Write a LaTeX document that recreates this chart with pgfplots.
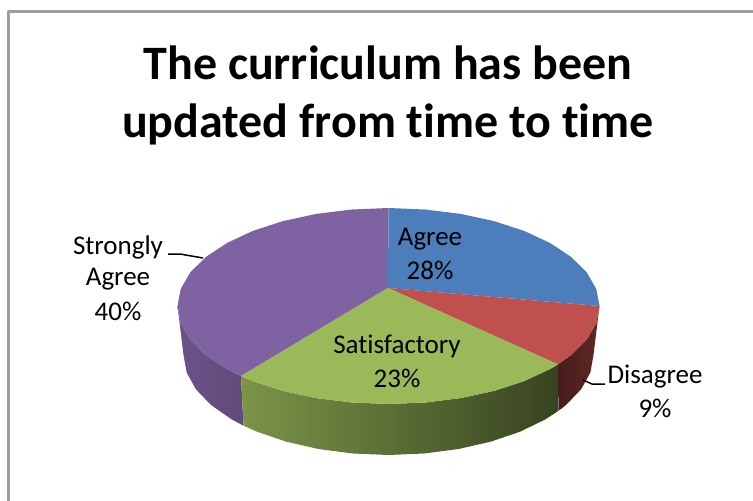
\documentclass[border=0pt]{standalone}
\usepackage{pgfplots}
\pgfplotsset{compat=1.18}
\usepackage{fontspec}
\setmainfont[Ligatures=NoCommon]{Carlito}
\definecolor{cblue}{HTML}{4C7EBB}
\definecolor{cred}{HTML}{BF504D}
\definecolor{cgreen}{HTML}{9ABA59}
\definecolor{cpurple}{HTML}{7F62A1}
\begin{document}
\begin{tikzpicture}
\useasboundingbox (0,0) rectangle (753pt,501pt);
\begin{axis}[
  at={(0,0)},anchor=south west,
  width=753pt,height=501pt,scale only axis,hide axis,
  xmin=0,xmax=753,ymin=0,ymax=501,y dir=reverse,clip=true,
  every axis plot/.append style={line join=round}]
% frame
\addplot[draw=black!38,line width=2.5pt] coordinates {(8.5,501) (8.5,11.5) (753,11.5)};
% sides
\addplot[draw=none,left color=cpurple!85!black,right color=cpurple!76!black] coordinates {
(177.5,306) (180.7,323.1) (190.2,339.5) (205.8,355) (226.9,369) (241,376)
(243.5,425.7) (231.5,419.3) (211,405) (195.8,389.2) (186.6,372.4) (183.5,355)} -- cycle;
\addplot[draw=none,left color=cgreen!80!black,middle color=cgreen!56!black,right color=cgreen!36!black] coordinates {
(241,376) (252.8,381.1) (283,390.9) (316.3,398.1) (351.8,402.5) (388.5,404) (425.2,402.5) (460.7,398.1) (494,390.9) (524.2,381.1) (550.1,369) (557.9,364.4)
(558.4,410.9) (545.5,419.3) (520.3,431.6) (491,441.6) (458.6,449) (424.2,453.5) (388.5,455) (352.8,453.5) (318.4,449) (286,441.6) (256.7,431.6) (243.5,425.7)} -- cycle;
\addplot[draw=none,left color=cred!36!black,right color=cred!50!black] coordinates {
(557.9,364.4) (571.2,355) (586.8,339.5) (596.3,323.1) (599.5,306)
(593.5,355) (590.4,372.4) (581.2,389.2) (566,405) (558.4,410.9)} -- cycle;
% top faces
\addplot[draw=none,fill=cpurple] coordinates {
(388,288) (241,376) (226.9,369) (205.8,355) (190.2,339.5) (180.7,323.1) (177.5,306) (180.7,289) (190.2,272.5) (205.8,257) (226.9,243) (252.8,230.9) (283,221.1) (316.3,213.9) (351.8,209.5) (388.5,208)} -- cycle;
\addplot[draw=none,fill=cblue] coordinates {
(388,288) (388.5,208) (425.2,209.5) (460.7,213.9) (494,221.1) (524.2,230.9) (550.1,243) (571.2,257) (586.8,272.5) (596.3,289) (599.5,306)} -- cycle;
\addplot[draw=none,fill=cred] coordinates {
(388,288) (599.5,306) (596.3,323.1) (586.8,339.5) (571.2,355) (557.9,364.4)} -- cycle;
\addplot[draw=none,fill=cgreen] coordinates {
(388,288) (557.9,364.4) (550.1,369) (524.2,381.1) (494,390.9) (460.7,398.1) (425.2,402.5) (388.5,404) (351.8,402.5) (316.3,398.1) (283,390.9) (252.8,381.1) (241,376)} -- cycle;
% leaders
\addplot[black,line width=1.5pt] coordinates {(168,254) (180,254) (203,258)};
\addplot[black,line width=1.5pt] coordinates {(583,380) (592,384) (605,384)};
% text
\node[font=\fontsize{48}{48}\selectfont\bfseries] at (axis cs:388,63) {The curriculum has been};
\node[font=\fontsize{48}{48}\selectfont\bfseries] at (axis cs:388,124) {updated from time to time};
\node[font=\fontsize{27}{27}\selectfont] at (axis cs:430,239.5) {Agree};
\node[font=\fontsize{27}{27}\selectfont] at (axis cs:430,270) {28\%};
\node[font=\fontsize{27}{27}\selectfont] at (axis cs:397,346) {Satisfactory};
\node[font=\fontsize{27}{27}\selectfont] at (axis cs:397,378) {23\%};
\node[font=\fontsize{27}{27}\selectfont] at (axis cs:655,377) {Disagree};
\node[font=\fontsize{27}{27}\selectfont] at (axis cs:655,408) {9\%};
\node[font=\fontsize{27}{27}\selectfont] at (axis cs:118,247) {Strongly};
\node[font=\fontsize{27}{27}\selectfont] at (axis cs:118,279) {Agree};
\node[font=\fontsize{27}{27}\selectfont] at (axis cs:118,311) {40\%};
\end{axis}
\end{tikzpicture}
\end{document}
